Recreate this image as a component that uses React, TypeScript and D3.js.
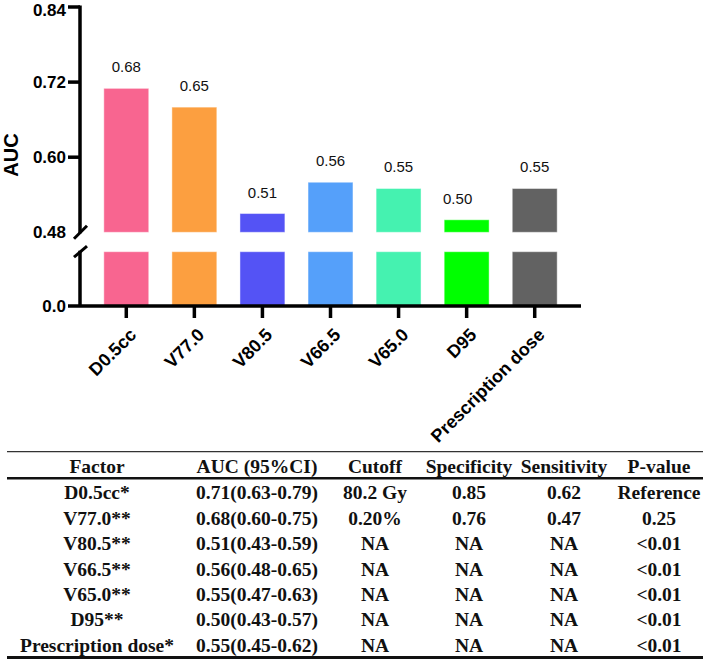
import * as d3 from 'd3'

// bar chart data
const categories = ['D0.5cc', 'V77.0', 'V80.5', 'V66.5', 'V65.0', 'D95', 'Prescription dose']
const aucValues = [0.71, 0.68, 0.51, 0.56, 0.55, 0.5, 0.55]
const shownLabels = [0.68, 0.65, 0.51, 0.56, 0.55, 0.5, 0.55]
const barColors = ['#F86590', '#FC9F40', '#5453F5', '#55A0FA', '#45F2B0', '#00FF00', '#626262']
const upperTicks = [0.48, 0.6, 0.72, 0.84]
const lowerTicks = [0.0]

// table data
const tableHeaders = ['Factor', 'AUC (95%CI)', 'Cutoff', 'Specificity', 'Sensitivity', 'P-value']
const factorNames = ['D0.5cc*', 'V77.0**', 'V80.5**', 'V66.5**', 'V65.0**', 'D95**', 'Prescription dose*']
const aucCI = [
    '0.71(0.63-0.79)',
    '0.68(0.60-0.75)',
    '0.51(0.43-0.59)',
    '0.56(0.48-0.65)',
    '0.55(0.47-0.63)',
    '0.50(0.43-0.57)',
    '0.55(0.45-0.62)',
]
const cutoffs = ['80.2 Gy', '0.20%', 'NA', 'NA', 'NA', 'NA', 'NA']
const specificities = ['0.85', '0.76', 'NA', 'NA', 'NA', 'NA', 'NA']
const sensitivities = ['0.62', '0.47', 'NA', 'NA', 'NA', 'NA', 'NA']
const pValues = ['Reference', '0.25', '<0.01', '<0.01', '<0.01', '<0.01', '<0.01']

const width = 709
const height = 660
const axisX = 80
const axisY = 306
const breakTop = 232.3
const breakBottom = 251.7
const tickFont = 17
const sans = 'Arial, "Liberation Sans", sans-serif'
const serif = '"Times New Roman", "Liberation Serif", serif'

// small manual nudge of the D95 value label, as in the source figure
const labelNudge: Record<string, number> = { D95: -9 }

const colCenters = [97, 257, 375, 469, 564, 659]
const headerBaseline = 473.3
const rowBaseline0 = 499.3
const rowStep = 25.4

export default function App() {
    const x = d3.scaleBand<string>().domain(categories).range([axisX, 581]).paddingInner(0.34).paddingOuter(0.35)
    const yUpper = d3.scaleLinear().domain([0.48, 0.84]).range([breakTop, 7])
    const yLower = d3.scaleLinear().domain([0, 0.48]).range([axisY, breakBottom])

    const rows = factorNames.map((f, i) => [f, aucCI[i], cutoffs[i], specificities[i], sensitivities[i], pValues[i]])

    // keep the top tick label inside the picture
    const tickBaseline = (y: number) => Math.max(y + tickFont * 0.35, tickFont * 0.92)

    return (
        <svg
            width={width}
            height={height}
            style={{ position: 'absolute', left: 0, top: 0, background: 'white' }}
        >
            {/* bars, split at the axis break */}
            {categories.map((c, i) => {
                const v = aucValues[i]
                const bx = x(c) ?? 0
                const bw = x.bandwidth()
                const topY = yUpper(v)
                return (
                    <g key={c}>
                        <rect
                            x={bx}
                            y={topY}
                            width={bw}
                            height={breakTop - topY}
                            fill={barColors[i]}
                            stroke="rgba(255,255,255,0.45)"
                            strokeWidth={1}
                        />
                        <rect
                            x={bx}
                            y={yLower(0.48)}
                            width={bw}
                            height={yLower(0) - yLower(0.48)}
                            fill={barColors[i]}
                            stroke="rgba(255,255,255,0.45)"
                            strokeWidth={1}
                        />
                        <text
                            x={bx + bw / 2 + (labelNudge[c] ?? 0)}
                            y={topY - 16}
                            textAnchor="middle"
                            style={{ fontFamily: sans, fontSize: 15, fill: '#111' }}
                        >
                            {shownLabels[i].toFixed(2)}
                        </text>
                    </g>
                )
            })}

            {/* y axis, upper and lower segments */}
            <g stroke="#000" strokeWidth={3.5} fill="none">
                <line x1={axisX} x2={axisX} y1={yUpper(0.84) - 1.5} y2={breakTop + 1} />
                <line x1={axisX} x2={axisX} y1={breakBottom - 1} y2={axisY} />
                <line x1={74} x2={87} y1={breakTop + 6.5} y2={breakTop - 6.5} strokeWidth={3} />
                <line x1={74} x2={87} y1={breakBottom + 5.5} y2={breakBottom - 5.5} strokeWidth={3} />
                {upperTicks
                    .filter((t) => t !== 0.48)
                    .map((t) => (
                        <line key={t} x1={68} x2={axisX} y1={yUpper(t)} y2={yUpper(t)} />
                    ))}
                {/* x axis */}
                <line x1={68} x2={581} y1={axisY} y2={axisY} />
                {categories.map((c) => {
                    const cx = (x(c) ?? 0) + x.bandwidth() / 2
                    return <line key={c} x1={cx} x2={cx} y1={axisY} y2={318} />
                })}
            </g>

            {/* y tick labels */}
            <g style={{ fontFamily: sans, fontSize: tickFont, fontWeight: 'bold' }} textAnchor="end">
                {upperTicks.map((t) => (
                    <text key={t} x={66} y={tickBaseline(yUpper(t))}>
                        {t.toFixed(2)}
                    </text>
                ))}
                {lowerTicks.map((t) => (
                    <text key={t} x={66} y={tickBaseline(yLower(t))}>
                        {t.toFixed(1)}
                    </text>
                ))}
            </g>
            <text
                transform="translate(18,155) rotate(-90)"
                textAnchor="middle"
                style={{ fontFamily: sans, fontSize: 20, fontWeight: 'bold' }}
            >
                AUC
            </text>

            {/* rotated category labels */}
            {categories.map((c) => {
                const cx = (x(c) ?? 0) + x.bandwidth() / 2
                return (
                    <text
                        key={c}
                        transform={`translate(${cx + 11},336) rotate(-45)`}
                        textAnchor="end"
                        style={{ fontFamily: sans, fontSize: 18, fontWeight: 'bold' }}
                    >
                        {c}
                    </text>
                )
            })}

            {/* summary table */}
            <line x1={7} x2={703} y1={451.7} y2={451.7} stroke="#333" strokeWidth={1.2} />
            <line x1={7} x2={703} y1={478.3} y2={478.3} stroke="#111" strokeWidth={2.5} />
            <line x1={7} x2={703} y1={657.5} y2={657.5} stroke="#111" strokeWidth={3} />
            <g style={{ fontFamily: serif, fontSize: 19.5, fontWeight: 'bold', fill: '#111' }} textAnchor="middle">
                {tableHeaders.map((h, j) => (
                    <text key={h} x={colCenters[j]} y={headerBaseline}>
                        {h}
                    </text>
                ))}
                {rows.map((r, i) =>
                    r.map((cell, j) => (
                        <text key={`${i}-${j}`} x={colCenters[j]} y={rowBaseline0 + i * rowStep}>
                            {cell}
                        </text>
                    )),
                )}
            </g>
        </svg>
    )
}
